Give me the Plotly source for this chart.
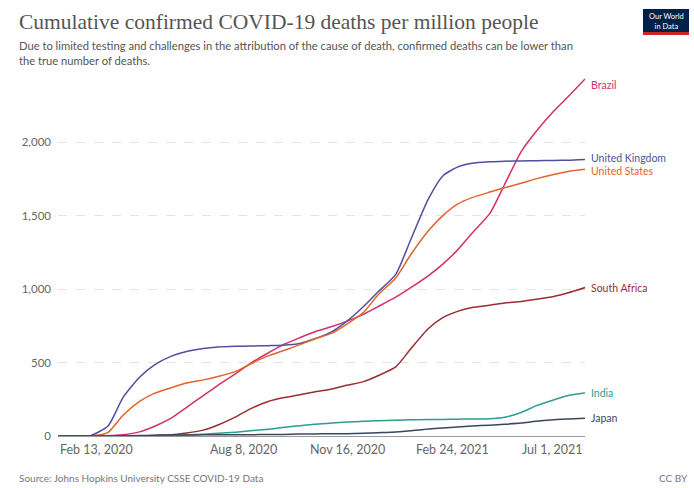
import plotly.graph_objects as go

dates = ["2020-02-13","2020-03-01","2020-03-15","2020-04-01","2020-04-15","2020-05-01","2020-05-15",
         "2020-06-01","2020-06-15","2020-07-01","2020-07-15","2020-08-01","2020-08-15","2020-09-01",
         "2020-09-15","2020-10-01","2020-10-15","2020-11-01","2020-11-15","2020-12-01","2020-12-15",
         "2021-01-01","2021-01-15","2021-02-01","2021-02-15","2021-03-01","2021-03-15","2021-04-01",
         "2021-04-15","2021-05-01","2021-05-15","2021-06-01","2021-06-15","2021-07-01"]

brazil = [0,0,0,1,8,28,65,125,195,275,345,425,495,565,620,668,708,745,780,828,880,945,1008,1090,1170,
          1265,1380,1515,1710,1935,2070,2210,2310,2430]
uk = [0,0,2,70,260,400,482,545,575,595,605,610,612,615,618,630,660,710,780,880,980,1100,1330,1610,1770,
      1830,1856,1866,1870,1872,1874,1875,1877,1882]
us = [0,0,0,25,140,235,290,330,360,382,405,440,490,545,580,620,660,700,760,840,960,1075,1230,1395,1500,
      1578,1622,1660,1690,1720,1750,1780,1800,1815]
south_africa = [0,0,0,0,0,1,3,8,20,40,75,130,185,235,260,280,300,320,345,370,410,470,590,730,805,848,875,
                890,905,915,930,950,975,1010]
india = [0,0,0,0,0,1,2,4,7,12,18,26,35,46,58,70,80,88,95,100,104,108,110,112,113,114,116,118,128,160,205,
         245,275,292]
japan = [0,0,0,0,1,3,5,7,7,8,8,8,9,10,11,13,14,15,16,18,22,27,35,48,55,62,68,74,80,88,100,110,116,120]

series = [
    ("Brazil", brazil, "#D3306A"),
    ("United Kingdom", uk, "#4F4FA0"),
    ("United States", us, "#E0652A"),
    ("South Africa", south_africa, "#9A2C33"),
    ("India", india, "#2E9C8E"),
    ("Japan", japan, "#3A4660"),
]
label_y = {"Brazil": 2390, "United Kingdom": 1895, "United States": 1805,
           "South Africa": 1010, "India": 292, "Japan": 120}

x_tick_dates = ["2020-02-13", "2020-08-08", "2020-11-16", "2021-02-24", "2021-07-01"]
x_tick_text = ["Feb 13, 2020", "Aug 8, 2020", "Nov 16, 2020", "Feb 24, 2021", "Jul 1, 2021"]
y_ticks = [0, 500, 1000, 1500, 2000]
y_tick_text = ["0", "500", "1,000", "1,500", "2,000"]

W, H = 694, 488
L, R, T, B = 58, 109, 76, 52
PW, PH = W - L - R, H - T - B

def xp(px):
    return (px - L) / PW

def yp(py):
    return (H - B - py) / PH

fig = go.Figure()
for name, vals, col in series:
    fig.add_trace(go.Scatter(x=dates, y=vals, mode="lines", name=name,
                             line=dict(color=col, width=1.5, shape="spline", smoothing=0.6),
                             hoverinfo="skip"))

ann = []
for name, vals, col in series:
    ann.append(dict(x=dates[-1], y=label_y[name], xref="x", yref="y", text=name, showarrow=False,
                    xanchor="left", yanchor="middle", xshift=4,
                    font=dict(family="Lato", size=10.5, color=col)))

for i, (d, t) in enumerate(zip(x_tick_dates, x_tick_text)):
    anchor = "left" if i == 0 else ("right" if i == len(x_tick_dates) - 1 else "center")
    ann.append(dict(x=d, y=0, xref="x", yref="paper", text=t, showarrow=False,
                    xanchor=anchor, yanchor="top", yshift=-4,
                    font=dict(family="Lato", size=12.5, color="#666666")))

ann.append(dict(x=xp(17), y=yp(22), xref="paper", yref="paper", showarrow=False,
                text="Cumulative confirmed COVID-19 deaths per million people",
                xanchor="left", yanchor="middle",
                font=dict(family="Liberation Serif", size=21.5, color="#555555")))
ann.append(dict(x=xp(17), y=yp(53), xref="paper", yref="paper", showarrow=False, align="left",
                text="Due to limited testing and challenges in the attribution of the cause of death, confirmed deaths can be lower than<br>the true number of deaths.",
                xanchor="left", yanchor="middle",
                font=dict(family="Lato", size=11.2, color="#555555")))
ann.append(dict(x=xp(17), y=yp(478), xref="paper", yref="paper", showarrow=False,
                text="Source: Johns Hopkins University CSSE COVID-19 Data",
                xanchor="left", yanchor="middle",
                font=dict(family="Lato", size=10, color="#777777")))
ann.append(dict(x=xp(690), y=yp(478), xref="paper", yref="paper", showarrow=False,
                text="CC BY", xanchor="right", yanchor="middle",
                font=dict(family="Lato", size=10, color="#777777")))
ann.append(dict(x=xp(666), y=yp(21), xref="paper", yref="paper", showarrow=False,
                text="Our World<br>in Data", xanchor="center", yanchor="middle",
                font=dict(family="Lato", size=7.5, color="#ffffff")))

shapes = [
    dict(type="rect", xref="paper", yref="paper", x0=xp(643), x1=xp(689), y0=yp(34), y1=yp(9),
         fillcolor="#002147", line=dict(width=0), layer="above"),
    dict(type="rect", xref="paper", yref="paper", x0=xp(643), x1=xp(689), y0=yp(35), y1=yp(32),
         fillcolor="#CE261E", line=dict(width=0), layer="above"),
]

fig.update_layout(
    width=W, height=H, margin=dict(l=L, r=R, t=T, b=B),
    paper_bgcolor="white", plot_bgcolor="white", showlegend=False,
    annotations=ann, shapes=shapes,
    xaxis=dict(type="date", range=["2020-02-13", "2021-07-01"], showgrid=False, zeroline=False,
               showticklabels=False, showline=True, linecolor="#999999", linewidth=1, ticks=""),
    yaxis=dict(range=[0, 2450], tickvals=y_ticks, ticktext=y_tick_text, showgrid=True,
               gridcolor="#e4e4e4", griddash="dash", gridwidth=1, zeroline=False, showline=False,
               tickfont=dict(family="Lato", size=11.5, color="#666666"), ticks="",
               ticklabelstandoff=6),
)

fig.write_html("out.html")
